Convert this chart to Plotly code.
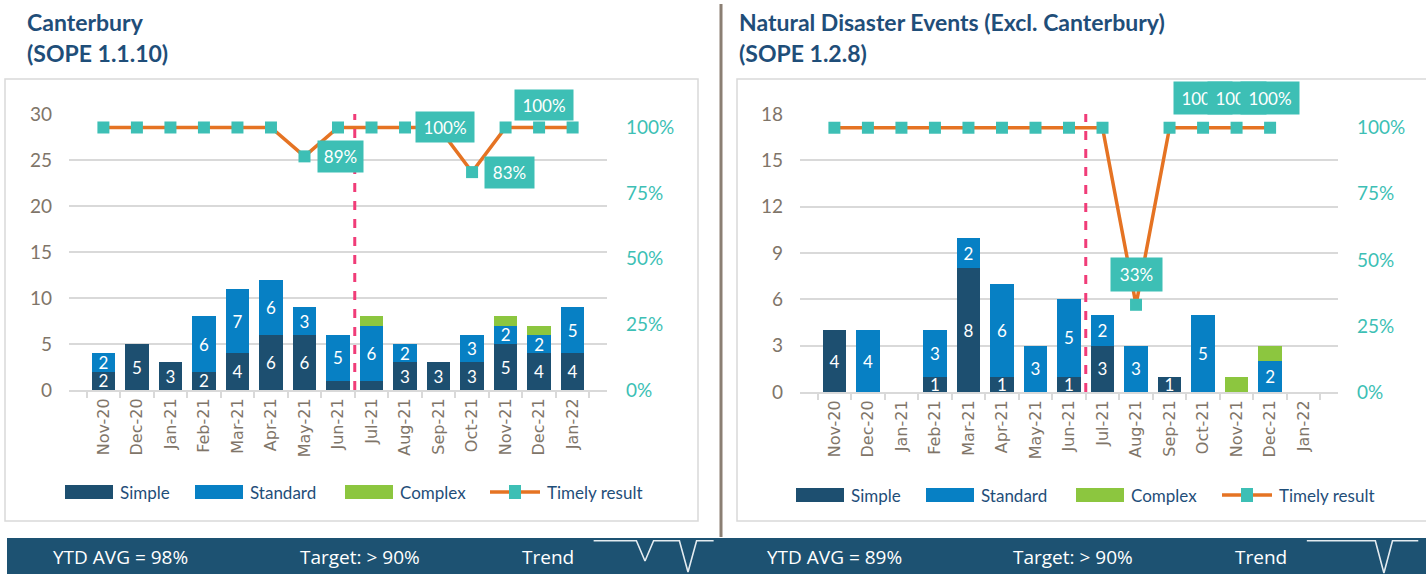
import plotly.graph_objects as go

# ---------------- data ----------------
months = ["Nov-20", "Dec-20", "Jan-21", "Feb-21", "Mar-21", "Apr-21", "May-21", "Jun-21",
          "Jul-21", "Aug-21", "Sep-21", "Oct-21", "Nov-21", "Dec-21", "Jan-22"]
series_names = ["Simple", "Standard", "Complex", "Timely result"]

cant_simple = [2, 5, 3, 2, 4, 6, 6, 1, 1, 3, 3, 3, 5, 4, 4]
cant_standard = [2, 0, 0, 6, 7, 6, 3, 5, 6, 2, 0, 3, 2, 2, 5]
cant_complex = [0, 0, 0, 0, 0, 0, 0, 0, 1, 0, 0, 0, 1, 1, 0]
cant_timely = [1, 1, 1, 1, 1, 1, 0.89, 1, 1, 1, 1, 0.83, 1, 1, 1]
cant_simple_text = ["2", "5", "3", "2", "4", "6", "6", "", "", "3", "3", "3", "5", "4", "4"]
cant_standard_text = ["2", "", "", "6", "7", "6", "3", "5", "6", "2", "0", "3", "2", "2", "5"]
cant_labelled = ["May-21", "Sep-21", "Oct-21", "Dec-21"]

nde_simple = [4, 0, 0, 1, 8, 1, 0, 1, 3, 0, 1, 0, 0, 0, 0]
nde_standard = [0, 4, 0, 3, 2, 6, 3, 5, 2, 3, 0, 5, 0, 2, 0]
nde_complex = [0, 0, 0, 0, 0, 0, 0, 0, 0, 0, 0, 0, 1, 1, 0]
nde_timely = [1, 1, 1, 1, 1, 1, 1, 1, 1, 0.33, 1, 1, 1, 1, None]
nde_simple_text = ["4", "", "", "1", "8", "1", "", "1", "3", "", "1", "", "", "", ""]
nde_standard_text = ["", "4", "", "3", "2", "6", "3", "5", "2", "3", "", "5", "", "2", ""]
nde_labelled = ["Aug-21", "Oct-21", "Nov-21", "Dec-21"]

titles_left = ["Canterbury", "(SOPE 1.1.10)"]
titles_right = ["Natural Disaster Events (Excl. Canterbury)", "(SOPE 1.2.8)"]
footer_left = ["YTD AVG = 98%", "Target: > 90%", "Trend"]
footer_right = ["YTD AVG = 89%", "Target: > 90%", "Trend"]

# ---------------- styles ----------------
W, H = 1426, 574
C_SIMPLE = "#1d4f70"
C_STANDARD = "#0780c4"
C_COMPLEX = "#8cc63f"
C_LINE = "#e57323"
C_TEAL = "#3dbfb5"
C_AXIS = "#7f7569"
C_GRID = "#d9d9d9"
C_TITLE = "#1f4e79"
C_BAND = "#1d5272"
C_DASH = "#f03c78"
FONT = "Lato"


def px(x):
    return x / W


def py(y):
    return 1 - y / H


fig = go.Figure()


def add_panel(xa, ya, ya2, simple, standard, complex_, timely, s_text, st_text):
    xk = "x" if xa == 1 else f"x{xa}"
    yk = "y" if ya == 1 else f"y{ya}"
    y2k = f"y{ya2}"
    common = dict(xaxis=xk, yaxis=yk, textposition="inside", insidetextanchor="middle",
                  textangle=0, constraintext="none",
                  textfont=dict(color="white", size=17, family=FONT), hoverinfo="skip")
    fig.add_trace(go.Bar(x=months, y=simple, text=s_text, name=series_names[0],
                         marker=dict(color=C_SIMPLE, line=dict(width=0)), **common))
    fig.add_trace(go.Bar(x=months, y=standard, text=st_text, name=series_names[1],
                         marker=dict(color=C_STANDARD, line=dict(width=0)), **common))
    fig.add_trace(go.Bar(x=months, y=complex_, name=series_names[2],
                         marker=dict(color=C_COMPLEX, line=dict(width=0)),
                         xaxis=xk, yaxis=yk, hoverinfo="skip"))
    fig.add_trace(go.Scatter(x=months, y=timely, name=series_names[3], mode="lines+markers",
                             line=dict(color=C_LINE, width=3.5),
                             marker=dict(symbol="square", size=12, color=C_TEAL),
                             xaxis=xk, yaxis=y2k, connectgaps=False, hoverinfo="skip"))


add_panel(1, 1, 2, cant_simple, cant_standard, cant_complex, cant_timely,
          cant_simple_text, cant_standard_text)
add_panel(2, 3, 4, nde_simple, nde_standard, nde_complex, nde_timely,
          nde_simple_text, nde_standard_text)

# sparklines in footer band (min of series at bottom, max at top)
fig.add_trace(go.Scatter(x=list(range(len(months))), y=cant_timely, mode="lines",
                         line=dict(color="#e3ebf0", width=1.6), xaxis="x3", yaxis="y5",
                         hoverinfo="skip"))
fig.add_trace(go.Scatter(x=list(range(len(months))), y=nde_timely, mode="lines",
                         line=dict(color="#e3ebf0", width=1.6), xaxis="x4", yaxis="y6",
                         hoverinfo="skip"))

xcommon = dict(type="category", categoryorder="array", categoryarray=months,
               tickangle=-90, tickfont=dict(family="DejaVu Sans", size=16, color=C_AXIS),
               showline=True, linecolor=C_GRID, linewidth=2, ticks="outside",
               tickson="boundaries", ticklen=6, tickcolor=C_GRID, tickwidth=1.5,
               showgrid=False, zeroline=False, fixedrange=True, automargin=False)
ycommon = dict(showgrid=True, gridcolor=C_GRID, gridwidth=1.5, zeroline=False,
               tickfont=dict(family=FONT, size=19, color=C_AXIS), ticklabelstandoff=16,
               showline=False, fixedrange=True, automargin=False)
y2common = dict(side="right", showgrid=False, zeroline=False, tickformat=".0%",
                tickvals=[0, 0.25, 0.5, 0.75, 1.0],
                tickfont=dict(family=FONT, size=19, color=C_TEAL), ticklabelstandoff=18,
                showline=False, fixedrange=True, automargin=False)
hidden = dict(visible=False, automargin=False, fixedrange=True)

fig.update_layout(
    xaxis=dict(domain=[px(69), px(607)], anchor="y", **xcommon),
    yaxis=dict(domain=[py(390), py(114)], range=[0, 30], dtick=5, anchor="x", **ycommon),
    yaxis2=dict(overlaying="y", anchor="x", range=[0, 1.0514], **y2common),
    xaxis2=dict(domain=[px(800), px(1338)], anchor="y3", **xcommon),
    yaxis3=dict(domain=[py(392), py(114)], range=[0, 18], dtick=3, anchor="x2", **ycommon),
    yaxis4=dict(overlaying="y3", anchor="x2", range=[0, 1.052], **y2common),
    xaxis3=dict(domain=[px(593.4), px(713.8)], range=[0, 14], anchor="y5", **hidden),
    yaxis5=dict(domain=[0, py(538)], range=[0.819, 1.0147], anchor="x3", **hidden),
    xaxis4=dict(domain=[px(1306.6), 1.0], range=[0, 13.9], anchor="y6", **hidden),
    yaxis6=dict(domain=[0, py(538)], range=[0.309, 1.056], anchor="x4", **hidden),
)

shapes = []
# panel boxes
shapes.append(dict(type="rect", xref="paper", yref="paper", x0=px(5), x1=px(698),
                   y0=py(521), y1=py(79), line=dict(color=C_GRID, width=1.5), layer="below"))
shapes.append(dict(type="rect", xref="paper", yref="paper", x0=px(737), x1=px(1430),
                   y0=py(521), y1=py(79), line=dict(color=C_GRID, width=1.5), layer="below"))
# separator
shapes.append(dict(type="line", xref="paper", yref="paper", x0=px(721), x1=px(721),
                   y0=py(537), y1=py(4), line=dict(color="#8b7f73", width=3)))
# footer band
shapes.append(dict(type="rect", xref="paper", yref="paper", x0=px(7), x1=1.0,
                   y0=0, y1=py(538), fillcolor=C_BAND, line=dict(width=0), layer="below"))
# divider dashed lines (between Jun-21 and Jul-21)
for xr, yr in (("x", "y domain"), ("x2", "y3 domain")):
    shapes.append(dict(type="line", xref=xr, yref=yr, x0=7.5, x1=7.5, y0=0, y1=1,
                       line=dict(color=C_DASH, width=3, dash="dash")))

annotations = []
# titles
for base_x, lines in ((25, titles_left), (737, titles_right)):
    for i, t in enumerate(lines):
        annotations.append(dict(text=f"<b>{t}</b>", xref="paper", yref="paper",
                                x=px(base_x), y=py(22 + 31 * i), xanchor="left",
                                yanchor="middle", showarrow=False,
                                font=dict(family=FONT, size=23, color=C_TITLE)))


# legends (custom wide swatches)
def add_legend(xs, yc):
    kinds = [C_SIMPLE, C_STANDARD, C_COMPLEX, None]
    for name, x0, col in zip(series_names, xs, kinds):
        if col is not None:
            shapes.append(dict(type="rect", xref="paper", yref="paper", x0=px(x0),
                               x1=px(x0 + 48), y0=py(yc + 7), y1=py(yc - 7),
                               fillcolor=col, line=dict(width=0)))
        else:
            shapes.append(dict(type="line", xref="paper", yref="paper", x0=px(x0),
                               x1=px(x0 + 50), y0=py(yc), y1=py(yc),
                               line=dict(color=C_LINE, width=3.5)))
            shapes.append(dict(type="rect", xref="paper", yref="paper", x0=px(x0 + 19),
                               x1=px(x0 + 31), y0=py(yc + 7), y1=py(yc - 7),
                               fillcolor=C_TEAL, line=dict(width=0)))
        annotations.append(dict(text=name, xref="paper", yref="paper",
                                x=px(x0 + (53 if col is not None else 55)), y=py(yc),
                                xanchor="left", yanchor="middle", showarrow=False,
                                font=dict(family=FONT, size=17, color=C_TITLE)))


add_legend([65, 195, 345, 490], 492)
add_legend([796, 926, 1076, 1222], 495)


# line value labels
def label(xr, yr, cat, vals, xshift, yshift, width, height):
    v = vals[months.index(cat)]
    annotations.append(dict(text=f"{v:.0%}", xref=xr, yref=yr, x=cat, y=v,
                            xshift=xshift, yshift=yshift, showarrow=False,
                            bgcolor=C_TEAL, borderpad=4, width=width, height=height,
                            font=dict(family=FONT, size=17, color="white")))


label("x", "y2", cant_labelled[0], cant_timely, 36, 0, 37, 23)
label("x", "y2", cant_labelled[1], cant_timely, 6, 0, 50, 22)
label("x", "y2", cant_labelled[2], cant_timely, 37, 0, 41, 23)
label("x", "y2", cant_labelled[3], cant_timely, 5, 22, 50, 22)
label("x2", "y4", nde_labelled[0], nde_timely, 0, 30, 43, 25)
for cat in nde_labelled[1:]:
    label("x2", "y4", cat, nde_timely, 0, 30, 50, 24)

# footer texts
for xs, texts in (((120, 360, 548), footer_left), ((834, 1073, 1261), footer_right)):
    for xc, t in zip(xs, texts):
        annotations.append(dict(text=t, xref="paper", yref="paper", x=px(xc), y=py(557),
                                xanchor="center", yanchor="middle", showarrow=False,
                                font=dict(family="Open Sans", size=19, color="white")))

fig.update_layout(
    width=W, height=H, margin=dict(l=0, r=0, t=0, b=0, pad=0, autoexpand=False),
    paper_bgcolor="white", plot_bgcolor="rgba(0,0,0,0)",
    barmode="stack", bargap=0.3, showlegend=False,
    font=dict(family=FONT), shapes=shapes, annotations=annotations,
)

fig.write_html("out.html", config={"responsive": False, "displayModeBar": False},
               post_script="document.body.style.margin='0px';document.body.style.overflow='hidden';")
